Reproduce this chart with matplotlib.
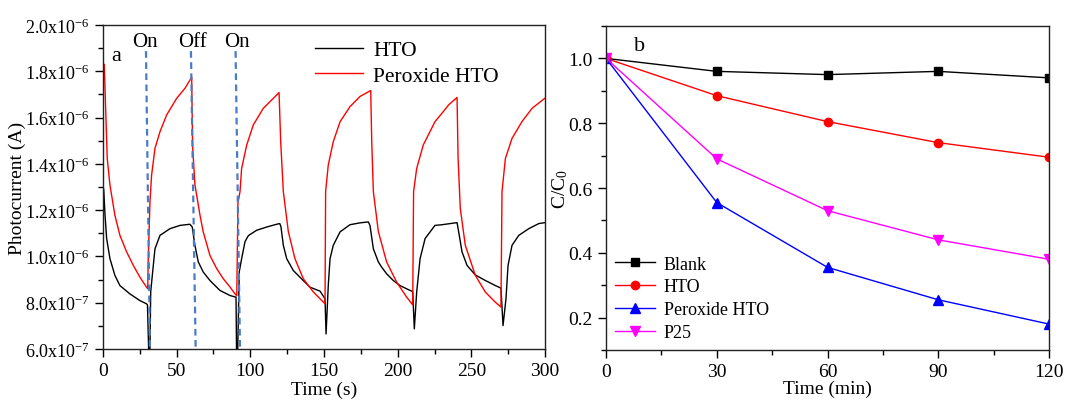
import matplotlib
matplotlib.use("Agg")
import matplotlib.pyplot as plt
from matplotlib.ticker import FuncFormatter, MultipleLocator
import numpy as np

plt.rcParams['font.family'] = ['Liberation Serif', 'DejaVu Serif']
plt.rcParams['mathtext.fontset'] = 'custom'
plt.rcParams['mathtext.rm'] = 'Liberation Serif'
plt.rcParams['mathtext.it'] = 'Liberation Serif:italic'
plt.rcParams['mathtext.bf'] = 'Liberation Serif:bold'

# ---------------- Panel a data (current in units of 1e-7 A) ----------------
hto_t = [0.1, 0.5, 1.4, 2.5, 4.75, 8.1, 11.5, 18.3, 25.1, 29.6, 30.2, 30.4, 31.2, 31.8,
         32.4, 33.7, 35.3, 38.7, 45.5, 52.3, 59.0, 60.6, 62.4, 64.7, 68.1, 72.6, 79.4,
         86.2, 90.3, 90.7, 91.3, 92.5, 94.1, 96.4, 98.7, 104.3, 111.1, 117.9, 120.0,
         120.8, 122.4, 124.7, 129.2, 133.7, 140.5, 147.3, 150.7, 151.4, 152.9, 154.1,
         156.3, 160.9, 167.6, 174.4, 180.1, 181.2, 183.5, 186.9, 189.1, 192.5, 197.0,
         201.6, 206.1, 210.2, 211.3, 212.9, 215.2, 218.6, 225.3, 230.1, 240.3, 241.4,
         243.7, 247.1, 252.7, 259.5, 266.3, 270.1, 271.5, 273.5, 274.9, 277.6, 282.2,
         289.0, 295.8, 300.0]
hto_i = [13.0, 12.9, 11.78, 10.77, 9.9, 9.18, 8.74, 8.38, 8.09, 7.95, 7.9, 7.44, 5.5, 5.5,
         8.47, 9.32, 10.33, 10.91, 11.2, 11.34, 11.39, 11.27, 10.48, 9.76, 9.32, 8.96, 8.53,
         8.31, 8.24, 5.5, 5.5, 9.34, 9.9, 10.64, 10.9, 11.13, 11.27, 11.39, 11.42,
         11.28, 10.48, 9.9, 9.39, 9.1, 8.67, 8.5, 8.17, 6.65, 8.74, 9.9,
         10.48, 11.06, 11.37, 11.45, 11.49, 11.34, 10.33, 9.76, 9.54, 9.25, 8.96,
         8.74, 8.6, 8.48, 6.87, 8.46, 9.9, 10.77, 11.34, 11.37, 11.46, 11.06,
         10.19, 9.61, 9.2, 8.96, 8.74, 8.63, 7.01, 8.17, 9.61, 10.48, 10.91,
         11.2, 11.42, 11.46]

perox_t = [0.2, 0.9, 1.8, 2.9, 4.75, 8.1, 11.5, 16.1, 20.6, 25.1, 29.6, 30.4, 30.6, 31.9,
           33.0, 35.3, 38.7, 43.2, 50.0, 55.7, 59.5, 60.2, 60.8, 62.4, 65.8, 68.0, 72.6,
           77.2, 81.7, 86.2, 89.6, 90.8, 91.6, 93.0, 94.1, 97.5, 102.0, 108.8, 115.6,
           119.5, 120.6, 122.4, 125.8, 130.3, 136.0, 142.7, 150.7, 151.1, 152.9, 156.3,
           160.9, 167.6, 174.4, 181.7, 182.4, 183.5, 186.9, 192.5, 199.3, 206.1, 210.2,
           210.8, 212.9, 217.4, 225.3, 230.1, 234.6, 240.3, 241.0, 242.5, 245.9, 252.7,
           259.5, 266.3, 270.1, 270.8, 273.1, 277.6, 284.4, 291.2, 299.8]
perox_i = [18.3, 18.3, 16.4, 14.23, 13.08, 11.78, 10.91, 10.19, 9.61, 9.1, 8.67, 8.6, 9.6, 12.36,
           13.51, 14.67, 15.39, 16.11, 16.83, 17.27, 17.67, 17.75, 14.8, 13.1, 11.8, 11.07, 10.04,
           9.47, 9.03, 8.68, 8.38, 8.3, 12.3, 12.8, 13.8, 14.8, 15.68, 16.4, 16.83,
           17.08, 14.97, 12.8, 11.07, 9.9, 9.03, 8.47, 7.95, 12.8, 13.95, 14.96,
           15.82, 16.47, 16.91, 17.17, 14.96, 12.8, 11.07, 9.76, 8.89, 8.24, 7.91,
           12.8, 13.8, 14.82, 15.82, 16.19, 16.55, 16.87, 14.23, 12.07, 10.48, 9.18,
           8.46, 8.02, 7.81, 12.8, 14.23, 15.1, 15.83, 16.4, 16.83]

switch_labels = ["On", "Off", "On"]
switch_label_t = [28.5, 61.0, 90.7]
switch_top_t = [29.2, 59.7, 90.0]
switch_bot_t = [31.9, 62.9, 93.0]

left_yticks = [6e-7, 8e-7, 1.0e-6, 1.2e-6, 1.4e-6, 1.6e-6, 1.8e-6, 2.0e-6]
left_xticks = [0, 50, 100, 150, 200, 250, 300]

# ---------------- Panel b data ----------------
deg_time = [0, 30, 60, 90, 120]
blank = [1.0, 0.96, 0.95, 0.96, 0.94]
hto = [1.0, 0.885, 0.805, 0.74, 0.695]
perox_hto = [1.0, 0.555, 0.355, 0.255, 0.18]
p25 = [1.0, 0.69, 0.53, 0.44, 0.38]

fig = plt.figure(figsize=(10.67, 4.02), dpi=100)
axa = fig.add_axes([0.0965, 0.1294, 0.4143, 0.8059])
axb = fig.add_axes([0.568, 0.1269, 0.4151, 0.8059])

FS = 14

# ---- panel a ----
scale = 1e-7
axa.plot(hto_t, np.array(hto_i) * scale, color='black', lw=1.0, label='HTO')
axa.plot(perox_t, np.array(perox_i) * scale, color='#ff0000', lw=1.0, label='Peroxide HTO')
for lab, tl, tt, tb in zip(switch_labels, switch_label_t, switch_top_t, switch_bot_t):
    axa.plot([tt, tb], [1.887e-6, 6.0e-7], color='#4a7cc4', lw=1.6, ls=(0, (3, 2)))
    axa.text(tl, 1.93e-6, lab, ha='center', va='center', fontsize=15)
axa.text(9.3, 1.87e-6, 'a', ha='center', va='center', fontsize=16)

axa.set_xlim(0, 300)
axa.set_ylim(6e-7, 2.0e-6)
axa.set_xticks(left_xticks)
axa.set_yticks(left_yticks)
axa.xaxis.set_minor_locator(MultipleLocator(25))
axa.yaxis.set_minor_locator(MultipleLocator(1e-7))


def sci_fmt(v, pos):
    exp = int(np.floor(np.log10(v) + 1e-9))
    mant = v / 10 ** exp
    return r'$\mathregular{%.1fx10^{%d}}$' % (mant, exp)


axa.yaxis.set_major_formatter(FuncFormatter(sci_fmt))
axa.set_xlabel('Time (s)', fontsize=FS, labelpad=1)
axa.set_ylabel('Photocurrent (A)', fontsize=FS, labelpad=-1)
leg = axa.legend(loc='upper right', bbox_to_anchor=(0.93, 1.0), frameon=False, fontsize=15.5,
                 handlelength=2.2, handletextpad=0.5, borderaxespad=0.3, labelspacing=0.25)

# ---- panel b ----
axb.plot(deg_time, blank, color='black', marker='s', ms=5.5, lw=1.0, label='Blank')
axb.plot(deg_time, hto, color='#ff0000', marker='o', ms=6, lw=1.0, label='HTO')
axb.plot(deg_time, perox_hto, color='#0000ff', marker='^', ms=6.5, lw=1.0, label='Peroxide HTO')
axb.plot(deg_time, p25, color='#ff00ff', marker='v', ms=6.5, lw=1.0, label='P25')
axb.text(9.1, 1.04, 'b', ha='center', va='center', fontsize=16)
axb.set_xlim(0, 120)
axb.set_ylim(0.1, 1.1)
axb.set_xticks([0, 30, 60, 90, 120])
axb.set_yticks([0.2, 0.4, 0.6, 0.8, 1.0])
axb.xaxis.set_minor_locator(MultipleLocator(15))
axb.yaxis.set_minor_locator(MultipleLocator(0.1))
axb.yaxis.set_major_formatter(FuncFormatter(lambda v, p: '%.1f' % v))
axb.set_xlabel('Time (min)', fontsize=FS, labelpad=0)
axb.set_ylabel(r'C/C$_\mathregular{0}$', fontsize=FS, labelpad=-1)
axb.legend(loc='lower left', frameon=False, fontsize=13, handlelength=2.2,
           handletextpad=0.5, borderaxespad=0.1, labelspacing=0.32)

for ax in (axa, axb):
    ax.tick_params(which='both', direction='out', labelsize=FS, top=False, right=False, width=1)
    ax.tick_params(which='major', length=6)
    ax.tick_params(which='minor', length=3.5)
    for s in ax.spines.values():
        s.set_linewidth(1.0)
        s.set_color('#222222')
axa.tick_params(axis='y', which='major', labelsize=13)

fig.savefig('out.png', dpi=100)
